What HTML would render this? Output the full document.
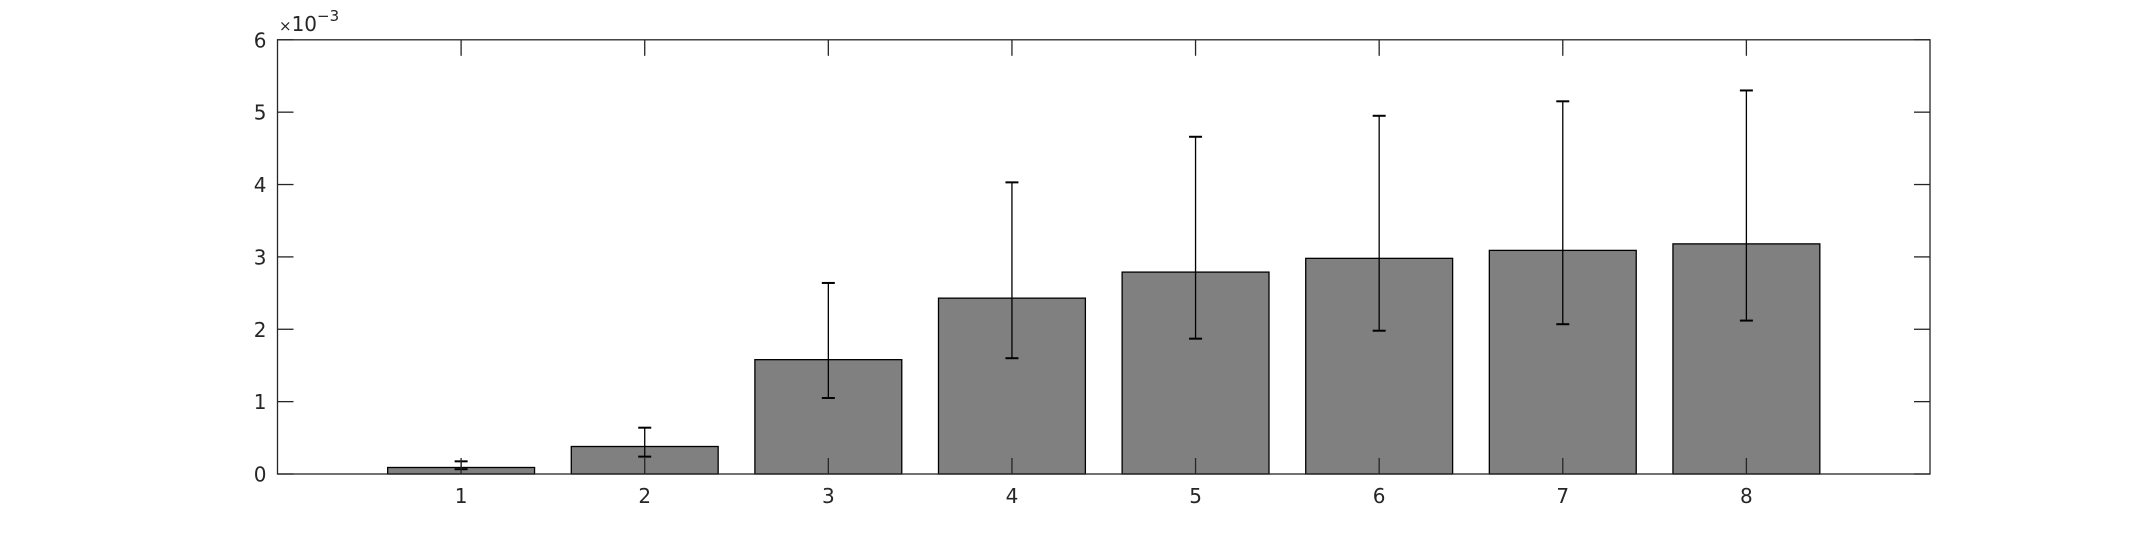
<!DOCTYPE html>
<html><head><meta charset="utf-8"><style>
body{margin:0;background:#fff;}
svg text{font-family:"DejaVu Sans","Liberation Sans",sans-serif;fill:#262626;}
</style></head><body>
<svg id="chart" width="2133" height="533" xmlns="http://www.w3.org/2000/svg">
<g id="plot"></g>
</svg>
<script>
const categories=[1,2,3,4,5,6,7,8];
const means=[0.09,0.38,1.58,2.43,2.79,2.98,3.09,3.18];
const errLow=[0.066,0.24,1.05,1.60,1.87,1.98,2.07,2.12];
const errHigh=[0.175,0.64,2.64,4.03,4.66,4.95,5.15,5.30];
const yTicks=[0,1,2,3,4,5,6];
const L=277.5,R=1930,T=39.8,B=474;
const xMin=0,xMax=9,yMin=0,yMax=6;
const X=v=>L+(v-xMin)/(xMax-xMin)*(R-L);
const Y=v=>B-(v-yMin)/(yMax-yMin)*(B-T);
const g=document.getElementById('plot');
const NS='http://www.w3.org/2000/svg';
function mk(tag,attrs){const e=document.createElementNS(NS,tag);for(const k in attrs)e.setAttribute(k,attrs[k]);g.appendChild(e);return e;}
categories.forEach((c,i)=>{
 const w=0.8*(X(1)-X(0));
 const r=mk('rect',{x:X(c)-w/2,y:Y(means[i]),width:w,height:Y(0)-Y(means[i]),fill:'#808080',stroke:'#000','stroke-width':1.3});
 
 
});
categories.forEach((c,i)=>{
 const eg=document.createElementNS(NS,'g');g.appendChild(eg);
 
 
 const x=X(c),cw=6.5;
 [[x,Y(errLow[i]),x,Y(errHigh[i])],[x-cw,Y(errLow[i]),x+cw,Y(errLow[i])],[x-cw,Y(errHigh[i]),x+cw,Y(errHigh[i])]].forEach(a=>{
  const l=document.createElementNS(NS,'line');
  l.setAttribute('x1',a[0]);l.setAttribute('y1',a[1]);l.setAttribute('x2',a[2]);l.setAttribute('y2',a[3]);
  l.setAttribute('stroke','#000');l.setAttribute('stroke-width',a[1]===a[3]?2:1.3);
  eg.appendChild(l);
 });
});
const box=mk('rect',{x:L,y:T,width:R-L,height:B-T,fill:'none',stroke:'#262626','stroke-width':1.3});


yTicks.forEach(t=>{
 const y=Y(t);
 mk('line',{x1:L,y1:y,x2:L+16,y2:y,stroke:'#262626','stroke-width':1.3});
 mk('line',{x1:R-16,y1:y,x2:R,y2:y,stroke:'#262626','stroke-width':1.3});
 const tx=mk('text',{x:L-11,y:y+7.5,'text-anchor':'end','font-size':20});
 tx.textContent=t;
 
 
});
categories.forEach(c=>{
 const x=X(c);
 mk('line',{x1:x,y1:B,x2:x,y2:B-16,stroke:'#262626','stroke-width':1.3});
 mk('line',{x1:x,y1:T,x2:x,y2:T+16,stroke:'#262626','stroke-width':1.3});
 const tx=mk('text',{x:x,y:B+29,'text-anchor':'middle','font-size':20});
 tx.textContent=c;
 
 
});
const ex=mk('text',{x:279,y:31,'font-size':20});


ex.innerHTML='<tspan font-size="15">×</tspan>10<tspan dy="-10" font-size="15">−3</tspan>';
</script>
</body></html>
